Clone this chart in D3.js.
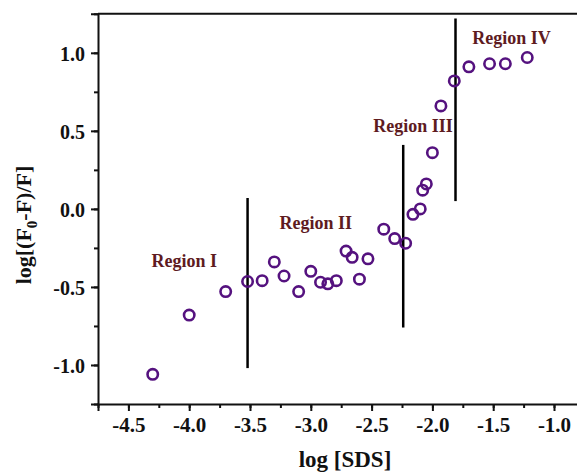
<!DOCTYPE html>
<html>
<head>
<meta charset="utf-8">
<script src="https://cdn.jsdelivr.net/npm/d3@7"></script>
<style>
  body { margin: 0; background: #fff; }
  svg { display: block; }
  text { font-family: "Liberation Serif", "Times New Roman", serif; font-weight: bold; }
</style>
</head>
<body>
<svg id="chart" width="577" height="474"></svg>
<script>
// log[SDS] vs log[(F0-F)/F]
const logSDS = [-4.3, -4.0, -3.7, -3.52, -3.4, -3.3, -3.22, -3.1, -3.0, -2.92,
  -2.86, -2.79, -2.71, -2.66, -2.6, -2.53, -2.4, -2.31, -2.22, -2.16,
  -2.1, -2.08, -2.05, -2.0, -1.93, -1.82, -1.7, -1.53, -1.4, -1.22];
const logQuench = [-1.06, -0.68, -0.53, -0.465, -0.46, -0.34, -0.43, -0.53, -0.40, -0.47,
  -0.48, -0.46, -0.27, -0.31, -0.45, -0.32, -0.13, -0.19, -0.22, -0.035,
  0.0, 0.12, 0.16, 0.36, 0.66, 0.82, 0.91, 0.93, 0.93, 0.97];

// region separators: x position, y from / y to
const dividerX = [-3.52, -2.24, -1.81];
const dividerTop = [0.07, 0.41, 1.22];
const dividerBottom = [-1.02, -0.76, 0.05];

const regionNames = ["Region I", "Region II", "Region III", "Region IV"];
const regionX = [-4.04, -2.96, -2.16, -1.35];
const regionY = [-0.37, -0.126, 0.49, 1.057];

const xTicks = [-4.5, -4.0, -3.5, -3.0, -2.5, -2.0, -1.5, -1.0];
const yTicks = [-1.0, -0.5, 0.0, 0.5, 1.0];

const svg = d3.select("#chart");
const W = 577;

const x = d3.scaleLinear().domain([-4.75, -0.75]).range([98, 584.4]);
const y = d3.scaleLinear().domain([-1.25, 1.25]).range([404, 13.8]);

const fmt = d => d.toFixed(1);

// minor ticks
svg.append("g")
    .attr("transform", "translate(0," + y(-1.25) + ")")
    .call(d3.axisBottom(x).tickValues(d3.range(-4.75, -0.74, 0.25)).tickSize(4).tickFormat(""))
    .call(g => g.select(".domain").remove());
svg.append("g")
    .attr("transform", "translate(" + x(-4.75) + ",0)")
    .call(d3.axisLeft(y).tickValues(d3.range(-1.25, 1.26, 0.25)).tickSize(4).tickFormat(""))
    .call(g => g.select(".domain").remove());

// major ticks
const xAxis = svg.append("g")
    .attr("transform", "translate(0," + y(-1.25) + ")")
    .call(d3.axisBottom(x).tickValues(xTicks).tickSize(7).tickPadding(6).tickFormat(fmt));
xAxis.selectAll("text").attr("font-size", 21).attr("fill", "#111");

const yAxis = svg.append("g")
    .attr("transform", "translate(" + x(-4.75) + ",0)")
    .call(d3.axisLeft(y).tickValues(yTicks).tickSize(7).tickPadding(6).tickFormat(fmt));
yAxis.selectAll("text").attr("font-size", 20).attr("fill", "#111").attr("dy", "0.36em");

svg.selectAll(".domain").attr("stroke", "#111").attr("stroke-width", 2);
svg.selectAll(".tick line").attr("stroke", "#111").attr("stroke-width", 2);

// top frame line (right side runs off the picture)
svg.append("line")
    .attr("x1", x(-4.75)).attr("x2", W)
    .attr("y1", y(1.25)).attr("y2", y(1.25))
    .attr("stroke", "#111").attr("stroke-width", 2);

// axis titles
svg.append("text")
    .attr("x", 345).attr("y", 467)
    .attr("text-anchor", "middle")
    .attr("font-size", 23)
    .attr("fill", "#111")
    .text("log [SDS]");

const yTitle = svg.append("text")
    .attr("transform", "translate(31,225) rotate(-90)")
    .attr("text-anchor", "middle")
    .attr("font-size", 22)
    .attr("fill", "#111");
yTitle.append("tspan").text("log[(F");
yTitle.append("tspan").attr("font-size", 15).attr("dy", 6).text("0");
yTitle.append("tspan").attr("dy", -6).text("-F)/F]");

// divider lines
svg.selectAll(".divider")
    .data(dividerX)
    .join("line")
    .attr("class", "divider")
    .attr("x1", d => x(d)).attr("x2", d => x(d))
    .attr("y1", (d, i) => y(dividerTop[i]))
    .attr("y2", (d, i) => y(dividerBottom[i]))
    .attr("stroke", "#000")
    .attr("stroke-width", 2.5);

// points
svg.selectAll(".pt")
    .data(logSDS)
    .join("circle")
    .attr("class", "pt")
    .attr("cx", d => x(d))
    .attr("cy", (d, i) => y(logQuench[i]))
    .attr("r", 5.2)
    .attr("fill", "none")
    .attr("stroke", "#55127f")
    .attr("stroke-width", 2.6);

// region labels
svg.selectAll(".region")
    .data(regionNames)
    .join("text")
    .attr("class", "region")
    .attr("x", (d, i) => x(regionX[i]))
    .attr("y", (d, i) => y(regionY[i]))
    .attr("text-anchor", "middle")
    .attr("font-size", 18)
    .attr("fill", "#5e1b1f")
    .text(d => d);
</script>
</body>
</html>
